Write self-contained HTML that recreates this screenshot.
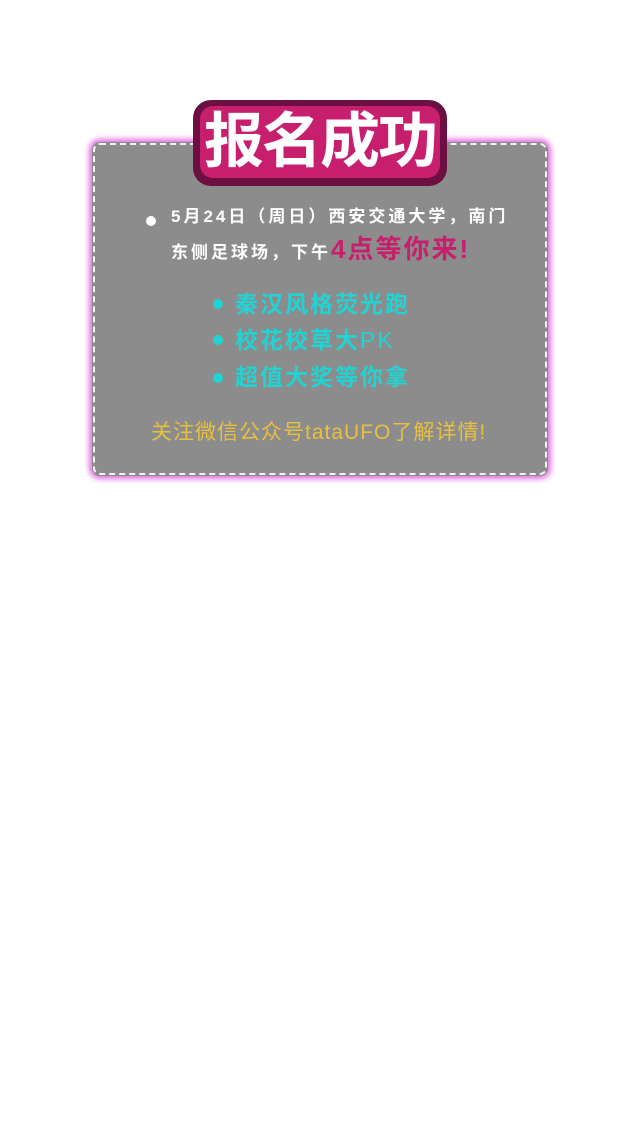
<!DOCTYPE html>
<html><head><meta charset="utf-8"><style>
body{margin:0;width:640px;height:1130px;background:#fff;position:relative;overflow:hidden;font-family:"Liberation Sans","Noto Sans CJK SC",sans-serif}
.card{position:absolute;left:92px;top:142px;width:456px;height:334px;background:#8c8c8c;border-radius:8px;box-shadow:0 0 6px 3px #e070e0;}
.card:before{content:"";position:absolute;inset:1px;border:2px dashed #f2f2f2;border-radius:7px}
.badge{position:absolute;left:193px;top:100px;width:254px;height:86px;background:#6b1040;border-radius:18px}
.badge .in{position:absolute;left:7px;top:6px;right:7px;bottom:8px;background:#c81e6e;border-radius:13px}
.title{position:absolute;left:193px;width:254px;top:104px;text-align:center;color:#fff;font-weight:bold;font-size:60px;line-height:76px;letter-spacing:-2px}
.t{position:absolute;white-space:nowrap;font-weight:bold}
.dot{position:absolute;border-radius:50%}
</style></head><body>
<div class="card"></div>
<div class="badge"><div class="in"></div></div>
<div class="title">报名成功</div>
<div class="dot" style="left:146px;top:216px;width:10px;height:10px;background:#fff"></div>
<div class="t" style="left:171px;top:206px;font-size:17px;color:#fff;line-height:22px;letter-spacing:3px">5月24日（周日）西安交通大学，南门</div>
<div class="t" style="left:171px;top:235px;font-size:17px;color:#fff;line-height:28px;letter-spacing:3px">东侧足球场，下午<span style="color:#c81e6e;font-size:26px;letter-spacing:2px">4点等你来!</span></div>
<div class="dot" style="left:213px;top:299px;width:10px;height:10px;background:#22d3d3"></div>
<div class="t" style="left:235px;top:290px;font-size:23px;color:#22d3d3;line-height:28px;letter-spacing:2px">秦汉风格荧光跑</div>
<div class="dot" style="left:213px;top:335px;width:10px;height:10px;background:#22d3d3"></div>
<div class="t" style="left:235px;top:326px;font-size:23px;color:#22d3d3;line-height:28px;letter-spacing:2px;font-weight:normal"><b>校花校草大</b>PK</div>
<div class="dot" style="left:213px;top:373px;width:10px;height:10px;background:#22d3d3"></div>
<div class="t" style="left:235px;top:363px;font-size:23px;color:#22d3d3;line-height:28px;letter-spacing:2px">超值大奖等你拿</div>
<div class="t" style="left:151px;top:419px;font-size:21px;color:#e8c040;line-height:28px;letter-spacing:1px;font-weight:normal">关注微信公众号tataUFO了解详情!</div>
</body></html>
